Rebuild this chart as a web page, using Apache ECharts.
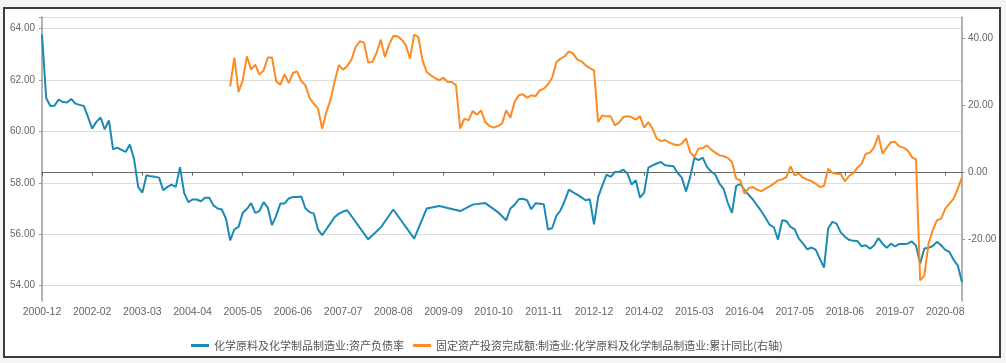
<!DOCTYPE html>
<html><head><meta charset="utf-8">
<script src="https://cdn.jsdelivr.net/npm/echarts@6/dist/echarts.min.js"></script>
<style>
html,body{margin:0;padding:0;background:#f3f4f6;width:1006px;height:363px;overflow:hidden;}
#frame{position:absolute;left:3px;top:7px;width:994px;height:347px;border:2px solid #3c3c3c;background:#fff;}
#chart{position:absolute;left:0;top:0;width:1006px;height:363px;}
</style></head><body>
<div id="frame"></div><div id="chart"></div>
<script>
// Categories: 2000-12, then Feb..Dec of each year (Jan merged into Feb)
const categories = ['2000-12'];
for (let y = 2001; y <= 2020; y++) {
  for (let m = 2; m <= 12; m++) categories.push(y + '-' + (m < 10 ? '0' + m : m));
}
const seriesNames = ['化学原料及化学制品制造业:资产负债率', '固定资产投资完成额:制造业:化学原料及化学制品制造业:累计同比(右轴)'];
const leftTicks = [54, 56, 58, 60, 62, 64];
const rightTicks = [-20, 0, 20, 40];

// Blue: 资产负债率 (left axis), index 0..220
const debtRatio = [
63.77,61.30,60.99,61.00,61.24,61.14,61.12,61.26,61.08,61.03,
60.99,60.56,60.11,60.37,60.54,60.08,60.43,59.30,59.37,59.28,
59.20,59.49,58.94,57.84,57.62,58.29,58.25,58.23,58.20,57.71,
57.84,57.93,57.84,58.61,57.60,57.25,57.35,57.35,57.28,57.42,
57.42,57.12,57.00,56.96,56.60,55.76,56.19,56.28,56.83,56.98,
57.21,56.83,56.90,57.25,57.03,56.35,56.72,57.19,57.19,57.39,
57.45,57.45,57.47,57.00,56.86,56.80,56.18,55.96,56.19,56.43,
56.67,56.80,56.88,56.93,null,null,null,null,55.80,null,
null,56.26,null,null,56.96,null,null,null,null,55.83,
null,null,57.00,null,null,57.10,null,57.02,null,null,
56.90,null,null,57.15,null,null,57.21,null,null,56.86,
null,56.54,57.00,57.14,57.36,57.38,57.32,56.97,57.20,57.18,
57.16,56.18,56.24,56.71,56.93,57.30,57.73,57.63,57.54,57.43,
57.32,57.36,56.38,57.45,57.90,58.32,58.23,58.42,58.42,58.51,
58.36,57.93,58.10,57.42,57.62,58.59,58.68,58.75,58.81,58.68,
58.66,58.64,58.38,58.20,57.66,58.22,58.97,58.88,58.98,58.62,
58.44,58.32,57.97,57.76,57.22,56.83,57.88,57.95,57.72,57.53,
57.35,57.12,56.90,56.64,56.37,56.27,55.79,56.54,56.51,56.28,
56.19,55.83,55.63,55.41,55.48,55.40,55.05,54.70,56.22,56.48,
56.41,56.07,55.90,55.78,55.74,55.73,55.53,55.57,55.43,55.57,
55.85,55.63,55.47,55.63,55.52,55.62,55.62,55.63,55.72,55.55,
54.86,55.44,55.47,55.54,55.70,55.57,55.39,55.31,55.00,54.78,
54.13
];

// Orange: 累计同比 (right axis), index 0..220
const investYoY = [
null,null,null,null,null,null,null,null,null,null,
null,null,null,null,null,null,null,null,null,null,
null,null,null,null,null,null,null,null,null,null,
null,null,null,null,null,null,null,null,null,null,
null,null,null,null,null,25.76,34.30,24.06,27.55,34.70,
30.74,32.23,29.25,30.54,34.33,34.33,27.25,26.27,29.34,26.75,
29.73,30.24,27.34,26.06,22.27,20.60,19.10,13.13,18.10,21.79,
27.30,32.10,30.74,31.82,33.73,37.49,39.19,38.80,32.84,33.01,
35.70,39.70,34.50,38.20,40.78,40.70,39.70,38.00,34.03,41.19,
40.48,33.52,30.03,29.04,28.24,27.55,28.34,27.04,27.04,26.06,
13.13,16.12,15.61,18.39,17.31,18.60,15.10,13.91,13.43,13.91,
14.63,18.60,16.42,21.07,23.07,23.37,22.39,23.07,22.78,24.57,
25.07,26.36,28.34,33.01,34.03,34.70,36.20,35.52,33.73,33.22,
32.03,31.22,30.54,15.10,17.10,16.80,16.80,14.12,14.93,16.60,
16.80,16.60,15.82,16.80,13.43,15.10,13.13,10.15,9.40,9.75,
9.00,8.45,8.15,8.66,10.20,6.15,4.70,7.16,7.34,8.15,
6.87,5.97,5.16,4.96,4.36,3.16,-1.80,-2.30,-6.27,-4.60,
-4.30,-5.07,-5.58,-4.78,-4.09,-3.28,-2.30,-2.00,-1.31,1.88,
-0.80,-0.30,-1.50,-2.10,-2.50,-3.28,-4.30,-4.00,1.19,0.00,
-0.30,-0.40,-2.60,-1.00,-0.10,1.49,2.69,5.67,5.97,7.64,
11.13,5.67,7.46,9.13,9.13,7.85,7.46,6.66,4.66,3.97,
-32.15,-30.66,-21.20,-17.20,-14.24,-13.73,-10.75,-9.25,-7.76,-4.78,
-1.31
];

const BLUE = '#1b8ab5', ORANGE = '#fd8b23';
const FONT = '"Liberation Sans", Arial, "Noto Sans CJK SC", sans-serif';
const fmt = v => Number(v).toFixed(2);

const chart = echarts.init(document.getElementById('chart'), null, {renderer: 'canvas'});
chart.setOption({
  animation: false,
  textStyle: {fontFamily: FONT},
  grid: {left: 42, right: 44, top: 17, bottom: 62},
  legend: {
    left: 186, top: 335, icon: 'rect', itemWidth: 18, itemHeight: 3, itemGap: 9,
    textStyle: {fontSize: 11, color: '#555', fontFamily: '"Noto Sans CJK SC", sans-serif'},
    data: seriesNames
  },
  xAxis: [
    {
      type: 'category', data: categories, boundaryGap: false, position: 'bottom',
      axisLine: {show: false}, axisTick: {show: false},
      axisLabel: {interval: 11, color: '#666', fontSize: 10.5, margin: 6, fontFamily: FONT},
      splitLine: {show: false}
    },
    {
      type: 'category', data: categories, boundaryGap: false, position: 'top',
      axisLine: {show: true, onZero: true, onZeroAxisIndex: 1, lineStyle: {color: '#666', width: 1.2}},
      axisTick: {show: true, inside: true, interval: 11, length: 3, lineStyle: {color: '#666'}},
      axisLabel: {show: false}, splitLine: {show: false}
    }
  ],
  yAxis: [
    {
      type: 'value', position: 'left', min: 53.4, max: 64.45,
      axisLine: {show: true, onZero: false, lineStyle: {color: '#999', width: 1.5}},
      axisTick: {show: true, length: 3, customValues: leftTicks.concat([64.45]), lineStyle: {color: '#999'}},
      axisLabel: {customValues: leftTicks, formatter: fmt, color: '#666', fontSize: 10, margin: 7, fontFamily: FONT},
      splitLine: {show: true, lineStyle: {color: '#dcdcdc', width: 1}}
    },
    {
      type: 'value', position: 'right', min: -38.3, max: 46.45,
      axisLine: {show: true, onZero: false, lineStyle: {color: '#999', width: 1.5}},
      axisTick: {show: true, length: 3, customValues: rightTicks, lineStyle: {color: '#999'}},
      axisLabel: {customValues: rightTicks, formatter: fmt, color: '#666', fontSize: 10, margin: 6, fontFamily: FONT},
      splitLine: {show: false}
    }
  ],
  series: [
    {
      name: seriesNames[0], type: 'line', xAxisIndex: 0, yAxisIndex: 0, data: debtRatio,
      symbol: 'none', connectNulls: true,
      lineStyle: {width: 2, color: BLUE}, itemStyle: {color: BLUE}
    },
    {
      name: seriesNames[1], type: 'line', xAxisIndex: 0, yAxisIndex: 1, data: investYoY,
      symbol: 'none', connectNulls: false,
      lineStyle: {width: 2, color: ORANGE}, itemStyle: {color: ORANGE}
    }
  ]
});
</script>
</body></html>
